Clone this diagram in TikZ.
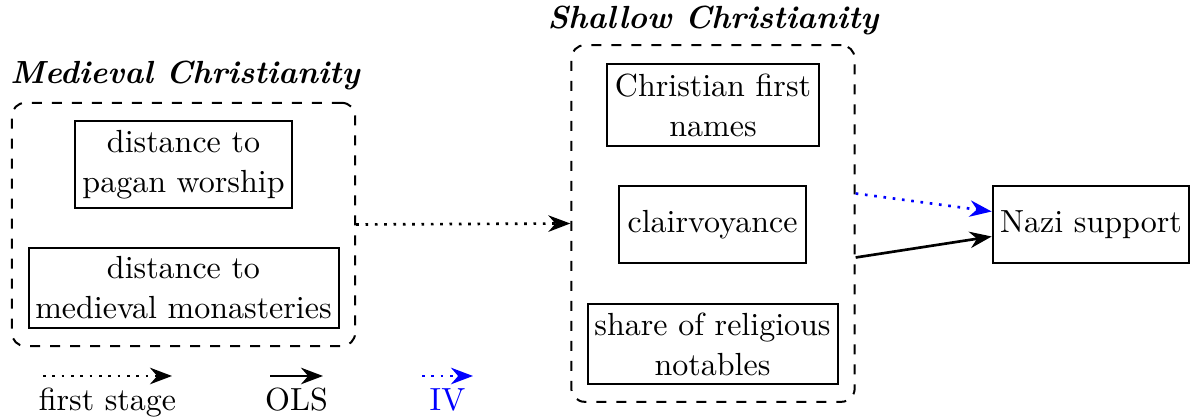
\documentclass[tikz,border=0pt]{standalone}
\usetikzlibrary{arrows.meta, positioning, calc}

\begin{document}
\begin{tikzpicture}[x=0.3pt, y=-0.3pt,
  every node/.style={font=\fontsize{9.6}{12}\selectfont},
  var/.style={rectangle, draw, semithick, align=center, inner sep=2pt},
  group/.style={rectangle, draw, semithick, dashed, rounded corners=4pt},
  head/.style={font=\fontsize{9.6}{12}\selectfont\bfseries\itshape},
  fsarr/.style={-{Stealth}, thick, dotted},
  olsarr/.style={-{Stealth}, thick},
  ivarr/.style={-{Stealth}, thick, dotted, blue}
]
\useasboundingbox (0,0) rectangle (1199,417);

% medieval block
\node[group, minimum width=103pt, minimum height=73pt] (mc) at (183.5,224.5) {};
\node[head] (mctitle) at (185,75) {Medieval Christianity};
\node[var, minimum width=65pt, minimum height=26pt] (pagan) at (183.5,164.5) {distance to\\pagan worship};
\node[var, minimum width=93pt, minimum height=24pt] (monast) at (183.5,288) {distance to\\medieval monasteries};

% shallow block
\node[group, minimum width=85pt, minimum height=107pt] (sc) at (713,223.5) {};
\node[head] (sctitle) at (713,20) {Shallow Christianity};
\node[var, minimum width=63.5pt, minimum height=24.5pt] (names) at (713,105) {Christian first\\names};
\node[var, minimum width=56pt, minimum height=23pt] (clair) at (712.5,224.5) {clairvoyance};
\node[var, minimum width=75pt, minimum height=24pt] (notab) at (712.5,344) {share of religious\\notables};

% outcome
\node[var, minimum width=59pt, minimum height=23pt] (nazi) at (1091,224.5) {Nazi support};

\draw[fsarr] (mc.east) -- (sc.west);
\draw[ivarr] ($(sc.east)+(0,-30)$) -- ($(nazi.west)+(0,-13)$);
\draw[olsarr] ($(sc.east)+(0,34)$) -- ($(nazi.west)+(0,12)$);

% legend
\coordinate (fsa) at (43,376);
\coordinate (fsb) at (172,376);
\coordinate (olsa) at (270,376);
\coordinate (olsb) at (323,376);
\coordinate (iva) at (422,376);
\coordinate (ivb) at (473,376);
\draw[fsarr] (fsa) -- (fsb) node[midway, below=0pt] (fslab) {first stage};
\draw[olsarr] (olsa) -- (olsb) node[midway, below=0pt] (olslab) {OLS};
\draw[ivarr] (iva) -- (ivb) node[midway, below=0pt, text=blue] (ivlab) {IV};
\end{tikzpicture}
\end{document}
